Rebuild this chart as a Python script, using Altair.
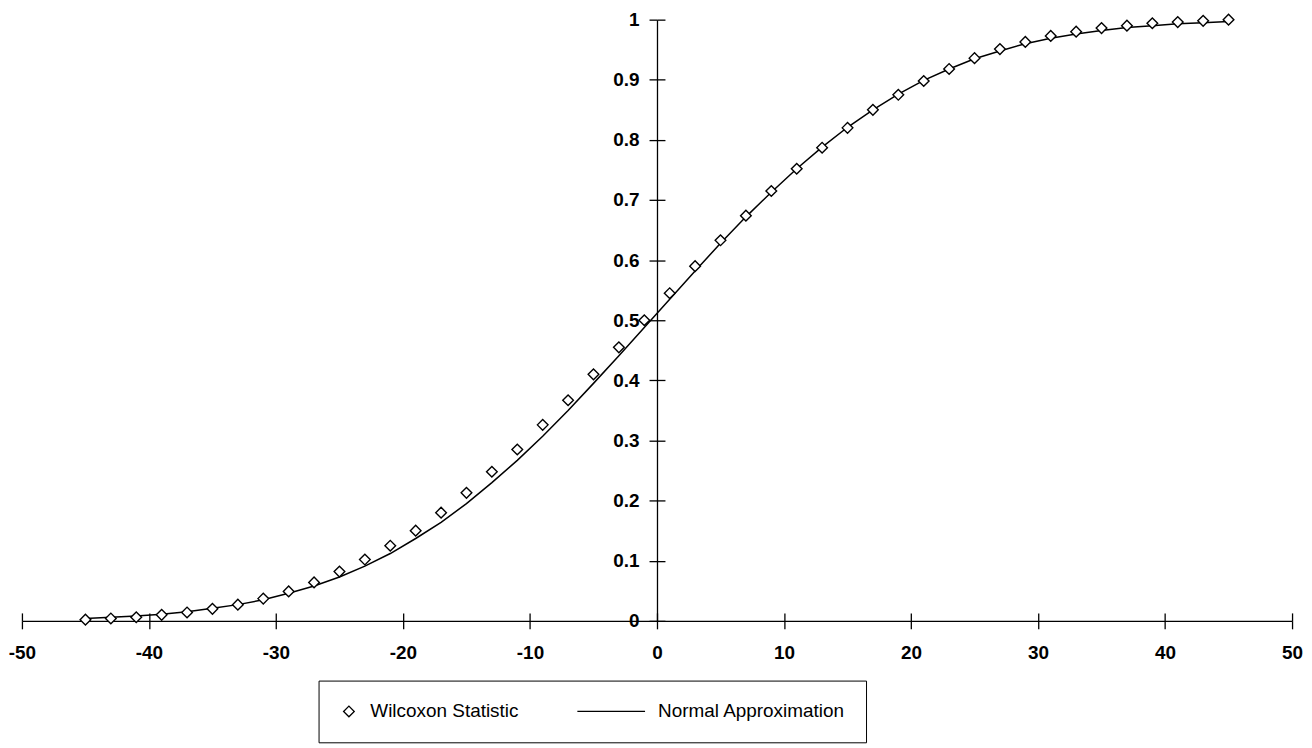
import altair as alt
import pandas as pd

# ---- data ----
x_vals = [-45, -43, -41, -39, -37, -35, -33, -31, -29, -27, -25, -23, -21, -19, -17,
          -15, -13, -11, -9, -7, -5, -3, -1, 1, 3, 5, 7, 9, 11, 13, 15, 17, 19, 21,
          23, 25, 27, 29, 31, 33, 35, 37, 39, 41, 43, 45]

wilcoxon = [0.002, 0.004, 0.006, 0.010, 0.014, 0.020, 0.027, 0.037, 0.049, 0.064,
            0.082, 0.102, 0.125, 0.150, 0.180, 0.213, 0.248, 0.285, 0.326, 0.367,
            0.410, 0.455, 0.500, 0.545, 0.590, 0.633, 0.674, 0.715, 0.752, 0.787,
            0.820, 0.850, 0.875, 0.898, 0.918, 0.936, 0.951, 0.963, 0.973, 0.980,
            0.986, 0.990, 0.994, 0.996, 0.998, 1.000]

normal = [0.004, 0.006, 0.008, 0.011, 0.015, 0.021, 0.027, 0.035, 0.046, 0.058,
          0.073, 0.091, 0.112, 0.137, 0.164, 0.195, 0.230, 0.267, 0.307, 0.350,
          0.395, 0.441, 0.488, 0.535, 0.582, 0.628, 0.672, 0.713, 0.752, 0.788,
          0.821, 0.850, 0.876, 0.899, 0.918, 0.935, 0.948, 0.960, 0.969, 0.976,
          0.982, 0.987, 0.990, 0.993, 0.995, 0.997]

x_ticks = [-50, -40, -30, -20, -10, 0, 10, 20, 30, 40, 50]
y_ticks = [0, 0.1, 0.2, 0.3, 0.4, 0.5, 0.6, 0.7, 0.8, 0.9, 1]
series_names = ["Wilcoxon Statistic", "Normal Approximation"]

W = 1276
H = 604
FONT = "Liberation Sans"

pts = pd.DataFrame({"x": x_vals, "p": wilcoxon, "series": series_names[0]})
line_df = pd.DataFrame({"x": x_vals, "p": normal})

xscale = alt.Scale(domain=[-50, 50], nice=False, zero=False)
yscale = alt.Scale(domain=[0, 1], nice=False, zero=False)

axis_common = dict(grid=False, domainColor="black", domainWidth=1.3,
                   tickColor="black", tickWidth=1.3, tickSize=8,
                   labelFont=FONT, labelFontSize=19, labelFontWeight="bold",
                   labelColor="black", title=None, labelFlush=False,
                   labelOverlap=False)

line = alt.Chart(line_df).mark_line(color="black", strokeWidth=1.5).encode(
    x=alt.X("x:Q", scale=xscale,
            axis=alt.Axis(orient="top", offset=-H, values=x_ticks, labels=False,
                          domain=False, **axis_common)),
    y=alt.Y("p:Q", scale=yscale,
            axis=alt.Axis(orient="right", offset=-W / 2, values=y_ticks, labels=False,
                          domain=False, **axis_common)),
)

points = alt.Chart(pts).mark_point(filled=True, fill="white", stroke="black",
                                   strokeWidth=1.4, opacity=1).encode(
    x=alt.X("x:Q", scale=xscale,
            axis=alt.Axis(orient="bottom", values=x_ticks, labelPadding=15,
                          labelExpr="datum.value < 0 ? '-' + abs(datum.value) : '' + datum.value",
                          **axis_common)),
    y=alt.Y("p:Q", scale=yscale,
            axis=alt.Axis(orient="left", offset=-W / 2, values=y_ticks, format="~g",
                          labelPadding=10, **axis_common)),
    shape=alt.Shape("series:N",
                    scale=alt.Scale(domain=series_names, range=["diamond", "stroke"]),
                    legend=alt.Legend(orient="none", legendX=298, legendY=664,
                                      direction="horizontal", title=None,
                                      padding=21, strokeColor="black",
                                      fillColor="white", columnPadding=58,
                                      labelOffset=12, labelFont=FONT,
                                      labelFontSize=19, labelColor="black",
                                      labelLimit=400, clipHeight=20,
                                      symbolStrokeColor="black",
                                      symbolFillColor="white",
                                      symbolStrokeWidth=1.3)),
    size=alt.Size("series:N",
                  scale=alt.Scale(type="point", padding=0, domain=series_names,
                                  range=[115, 4624])),
)

chart = alt.layer(line, points).resolve_axis(x="independent", y="independent").properties(
    width=W, height=H,
    autosize=alt.AutoSizeParams(type="none"),
    padding={"left": 14, "top": 10, "right": 12, "bottom": 122},
).configure_view(stroke=None)

chart.save("out.html", embed_options={"renderer": "svg", "actions": False})
